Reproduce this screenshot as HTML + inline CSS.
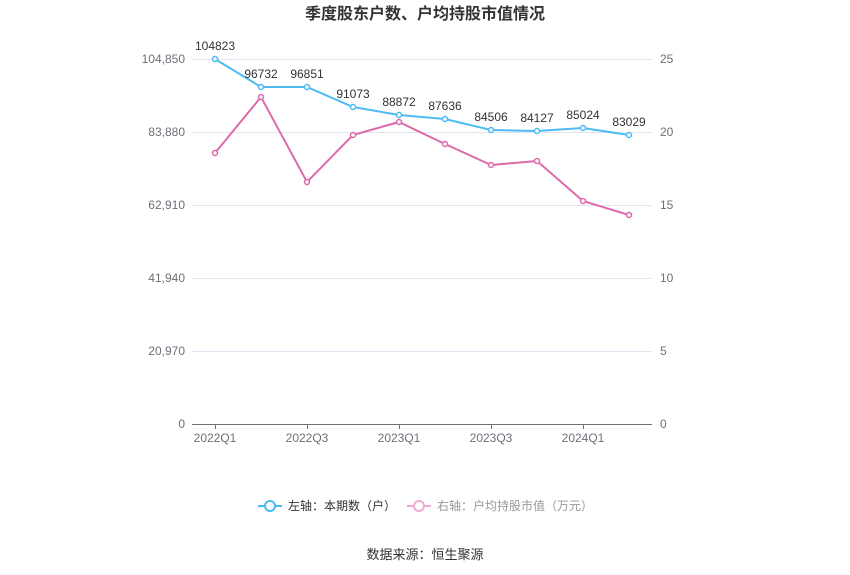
<!DOCTYPE html>
<html><head><meta charset="utf-8"><style>body{margin:0;background:#fff}svg{display:block}text{font-family:"Liberation Sans","Noto Sans CJK SC",sans-serif}</style></head><body>
<svg width="850" height="575" viewBox="0 0 850 575">
<text x="425" y="19" text-anchor="middle" font-size="16" font-weight="bold" fill="#333">季度股东户数、户均持股市值情况</text>
<g stroke="#e0e6f1" stroke-width="1">
<line x1="192" y1="59.5" x2="652" y2="59.5"/><line x1="192" y1="132.5" x2="652" y2="132.5"/><line x1="192" y1="205.5" x2="652" y2="205.5"/><line x1="192" y1="278.5" x2="652" y2="278.5"/><line x1="192" y1="351.5" x2="652" y2="351.5"/>
</g>
<line x1="192" y1="424.5" x2="652" y2="424.5" stroke="#6e7079"/>
<g stroke="#6e7079"><line x1="215.5" y1="424" x2="215.5" y2="429"/><line x1="307.5" y1="424" x2="307.5" y2="429"/><line x1="399.5" y1="424" x2="399.5" y2="429"/><line x1="491.5" y1="424" x2="491.5" y2="429"/><line x1="583.5" y1="424" x2="583.5" y2="429"/></g>
<g font-size="12" fill="#6e7079" text-anchor="end">
<text x="185" y="63">104,850</text><text x="185" y="136">83,880</text><text x="185" y="209">62,910</text><text x="185" y="282">41,940</text><text x="185" y="355">20,970</text><text x="185" y="428">0</text></g>
<g font-size="12" fill="#6e7079" text-anchor="start">
<text x="660" y="63">25</text><text x="660" y="136">20</text><text x="660" y="209">15</text><text x="660" y="282">10</text><text x="660" y="355">5</text><text x="660" y="428">0</text></g>
<g font-size="12" fill="#6e7079" text-anchor="middle">
<text x="215" y="442">2022Q1</text><text x="307" y="442">2022Q3</text><text x="399" y="442">2023Q1</text><text x="491" y="442">2023Q3</text><text x="583" y="442">2024Q1</text></g>
<polyline fill="none" stroke="#4dbbf4" stroke-width="2" points="215,59 261,87 307,87 353,107 399,115 445,119 491,130 537,131 583,128 629,135"/>
<polyline fill="none" stroke="#dd6aab" stroke-width="2" points="215,153 261,97 307,182 353,135 399,122 445,144 491,165 537,161 583,201 629,215"/>
<g fill="#fff" stroke="#4dbbf4" stroke-width="1.5"><circle cx="215" cy="59" r="2.5"/><circle cx="261" cy="87" r="2.5"/><circle cx="307" cy="87" r="2.5"/><circle cx="353" cy="107" r="2.5"/><circle cx="399" cy="115" r="2.5"/><circle cx="445" cy="119" r="2.5"/><circle cx="491" cy="130" r="2.5"/><circle cx="537" cy="131" r="2.5"/><circle cx="583" cy="128" r="2.5"/><circle cx="629" cy="135" r="2.5"/></g>
<g fill="#fff" stroke="#dd6aab" stroke-width="1.5"><circle cx="215" cy="153" r="2.5"/><circle cx="261" cy="97" r="2.5"/><circle cx="307" cy="182" r="2.5"/><circle cx="353" cy="135" r="2.5"/><circle cx="399" cy="122" r="2.5"/><circle cx="445" cy="144" r="2.5"/><circle cx="491" cy="165" r="2.5"/><circle cx="537" cy="161" r="2.5"/><circle cx="583" cy="201" r="2.5"/><circle cx="629" cy="215" r="2.5"/></g>
<g font-size="12" fill="#333" text-anchor="middle">
<text x="215" y="50">104823</text><text x="261" y="78">96732</text><text x="307" y="78">96851</text><text x="353" y="98">91073</text><text x="399" y="106">88872</text><text x="445" y="110">87636</text><text x="491" y="121">84506</text><text x="537" y="122">84127</text><text x="583" y="119">85024</text><text x="629" y="126">83029</text></g>
<g>
<line x1="258" y1="506" x2="282" y2="506" stroke="#4dbbf4" stroke-width="2"/><circle cx="270" cy="506" r="5" fill="#fff" stroke="#4dbbf4" stroke-width="2"/>
<text x="288" y="510" font-size="12" fill="#333">左轴：本期数（户）</text>
<line x1="407" y1="506" x2="431" y2="506" stroke="#f0a9d1" stroke-width="2"/><circle cx="419" cy="506" r="5" fill="#fff" stroke="#f0a9d1" stroke-width="2"/>
<text x="437" y="510" font-size="12" fill="#999">右轴：户均持股市值（万元）</text>
</g>
<text x="425" y="559" text-anchor="middle" font-size="13" fill="#333">数据来源：恒生聚源</text>
</svg>
</body></html>
